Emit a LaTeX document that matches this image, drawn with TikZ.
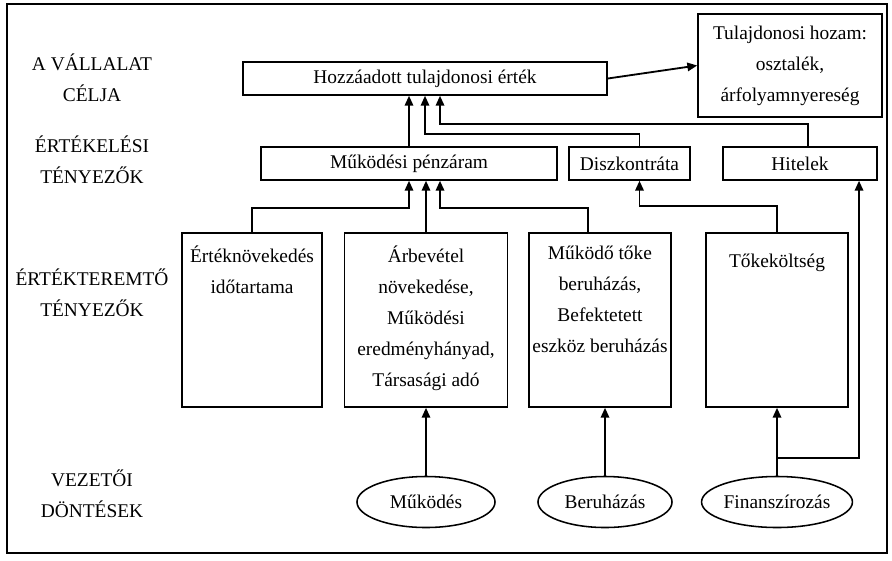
\documentclass[tikz,border=0pt]{standalone}
\usepackage{fontspec}
\setmainfont{Liberation Serif}
\usetikzlibrary{arrows.meta, positioning, shapes.geometric, calc}
\tikzset{
  every picture/.style={font=\fontsize{13.8}{22}\selectfont, line width=1.1pt},
  box/.style={draw, align=center, inner sep=2pt, minimum height=0.825cm},
  tall/.style={draw, minimum height=4.35cm, inner sep=0pt},
  oval/.style={draw, ellipse, inner sep=0pt, minimum height=1.275cm},
  arrow/.style={-{Triangle[length=7pt, width=6pt]}, line width=1.3pt},
  side/.style={align=center},
}

\begin{document}
\begin{tikzpicture}[x=0.025cm, y=-0.025cm,
  inside/.style={align=center, anchor=north, inner sep=0pt, execute at begin node=\strut}]
  \useasboundingbox (0,0) rectangle (892,560);
  \draw[line width=1.4pt] (7,4) rectangle (887,553);
  % levels
  \node[side] (cel) at (92,78) {A VÁLLALAT\\CÉLJA};
  \node[side] (ertekel) at (92,160) {ÉRTÉKELÉSI\\TÉNYEZŐK};
  \node[side] (teremto) at (92,293) {ÉRTÉKTEREMTŐ\\TÉNYEZŐK};
  \node[side] (dontes) at (92,494) {VEZETŐI\\DÖNTÉSEK};
  % goal
  \node[box, minimum width=9.1cm] (hta) at (425,78.5) {Hozzáadott tulajdonosi érték};
  \node[box, minimum width=4.6cm, minimum height=2.575cm] (hozam) at (790,65.5) {Tulajdonosi hozam:\\osztalék,\\árfolyamnyereség};
  \draw[arrow] (hta.east) -- (hozam.west);
  % valuation
  \node[box, minimum width=7.4cm] (penz) at (409,163.5) {Működési pénzáram};
  \node[box, minimum width=3.025cm] (disz) at (629.5,163.5) {Diszkontráta};
  \node[box, minimum width=3.85cm] (hitel) at (800,163.5) {Hitelek};
  \draw[arrow] (penz.north) -- (penz.north |- hta.south);
  \draw[arrow] ([xshift=0.25cm]disz.north) |- ([yshift=-0.95cm]hta.south) -- (hta.south);
  \draw[arrow] ([xshift=0.2cm]hitel.north) |- ([xshift=0.375cm, yshift=-0.7cm]hta.south) -- ([xshift=0.375cm]hta.south);
  % value drivers
  \node[tall, minimum width=3.5cm] (idot) at (252,320) {};
  \node[inside] (idot-t) at ([yshift=-0.32cm]idot.north) {Értéknövekedés\\időtartama};
  \node[tall, minimum width=4.075cm] (arbev) at (426,320) {};
  \node[inside] (arbev-t) at ([yshift=-0.32cm]arbev.north) {Árbevétel\\növekedése,\\Működési\\eredményhányad,\\Társasági adó};
  \node[tall, minimum width=3.55cm] (toke) at (600,320) {};
  \node[inside] (toke-t) at ([yshift=-0.32cm]toke.north) {Működő tőke\\beruházás,\\Befektetett\\eszköz beruházás};
  \node[tall, minimum width=3.55cm] (koltseg) at (777,320) {};
  \node[inside] (koltseg-t) at ([yshift=-0.32cm]koltseg.north) {Tőkeköltség};
  \draw[arrow] (idot.north) |- ([yshift=-0.675cm]penz.south) -- (penz.south);
  \draw[arrow] (arbev.north) -- (arbev.north |- penz.south);
  \draw[arrow] ([xshift=-0.3cm]toke.north) |- ([xshift=0.775cm, yshift=-0.675cm]penz.south) -- ([xshift=0.775cm]penz.south);
  \draw[arrow] (koltseg.north) |- ([xshift=0.25cm, yshift=-0.625cm]disz.south) -- ([xshift=0.25cm]disz.south);
  % decisions
  \node[oval, minimum width=3.45cm] (mukodes) at (426,502) {Működés};
  \node[oval, minimum width=3.35cm] (beruh) at (605,502) {Beruházás};
  \node[oval, minimum width=3.375cm] (finansz) at (777,502) {Finanszírozás};
  \draw[arrow] (mukodes.north) -- (mukodes.north |- arbev.south);
  \draw[arrow] (beruh.north) -- (beruh.north |- toke.south);
  \draw[arrow] (finansz.north) -- (finansz.north |- koltseg.south);
  \draw[arrow] ([yshift=0.45cm]finansz.north) -| ([xshift=1.475cm]hitel.south);
\end{tikzpicture}
\end{document}
